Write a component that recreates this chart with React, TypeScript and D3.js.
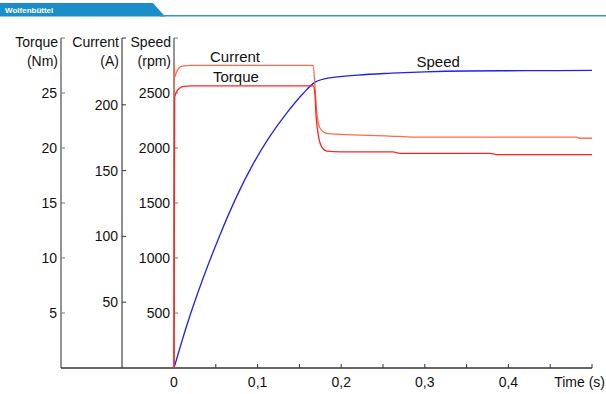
import { useEffect, useRef } from 'react'
import * as d3 from 'd3'

// time in s
const speedData: [number, number][] = [
  [0, 0], [0.015, 380], [0.035, 820], [0.055, 1210], [0.075, 1560], [0.095, 1860],
  [0.115, 2110], [0.135, 2320], [0.155, 2500], [0.167, 2590], [0.18, 2628],
  [0.22, 2663], [0.26, 2680], [0.3, 2692], [0.35, 2700], [0.42, 2703], [0.5, 2705],
]

const currentData: [number, number][] = [
  [0, 0], [0.0003, 232], [0.0008, 221], [0.003, 225], [0.006, 228], [0.01, 229.5],
  [0.02, 230], [0.1666, 230], [0.1687, 213], [0.1707, 195], [0.1746, 182.4],
  [0.1827, 178.3], [0.1986, 177.6], [0.258, 176.3], [0.286, 175.5], [0.4817, 175.5],
  [0.4856, 174.6], [0.5, 174.6],
]

const torqueData: [number, number][] = [
  [0, 0], [0.0008, 24.6], [0.003, 25.1], [0.007, 25.45], [0.012, 25.6], [0.02, 25.64],
  [0.1666, 25.64], [0.1687, 24.8], [0.1699, 23.0], [0.1726, 21.2], [0.1767, 20.1],
  [0.1827, 19.72], [0.2, 19.65], [0.262, 19.65], [0.27, 19.52], [0.378, 19.52],
  [0.386, 19.4], [0.5, 19.4],
]

const torqueTicks = [5, 10, 15, 20, 25]
const currentTicks = [50, 100, 150, 200]
const speedTicks = [500, 1000, 1500, 2000, 2500]
const timeLabelTicks = [0, 0.1, 0.2, 0.3, 0.4]
const timeMinorTicks = [0.05, 0.1, 0.15, 0.2, 0.25, 0.3, 0.35, 0.4, 0.45, 0.5]

const FONT = 'Liberation Sans, Arial, Helvetica, sans-serif'

export default function App() {
  const svgRef = useRef<SVGSVGElement>(null)

  useEffect(() => {
    if (!svgRef.current) return
    const svg = d3.select(svgRef.current)
    svg.selectAll('*').remove()

    const bottom = 368
    const top = 38
    const x = d3.scaleLinear().domain([0, 0.5]).range([174, 592])
    const yTorque = d3.scaleLinear().domain([0, 30]).range([bottom, top])
    const yCurrent = d3.scaleLinear().domain([0, 250.8]).range([bottom, top])
    const ySpeed = d3.scaleLinear().domain([0, 3000]).range([bottom, top])

    // Banner
    svg.append('path')
      .attr('d', 'M0,3 L153,3 L165,16.5 L0,16.5 Z')
      .attr('fill', '#1b8dc8')
    svg.append('line')
      .attr('x1', 160).attr('x2', 606)
      .attr('y1', 15.8).attr('y2', 15.8)
      .attr('stroke', '#2f96cc')
      .attr('stroke-width', 1.5)
    svg.append('text')
      .attr('x', 5).attr('y', 12.5)
      .attr('fill', 'white')
      .attr('font-size', 8)
      .attr('font-weight', 'bold')
      .attr('font-family', FONT)
      .text('Wolfenbüttel')

    // Vertical axes
    const axes = [
      { ax: 61, scale: yTorque, ticks: torqueTicks, color: '#7a7a7a', w: 1.6, title: ['Torque', '(Nm)'], labelX: 57 },
      { ax: 122, scale: yCurrent, ticks: currentTicks, color: '#333', w: 1.1, title: ['Current', '(A)'], labelX: 118 },
      { ax: 174, scale: ySpeed, ticks: speedTicks, color: '#7a7a7a', w: 1.6, title: ['Speed', '(rpm)'], labelX: 170 },
    ]

    axes.forEach((a) => {
      const g = svg.append('g')
      g.append('line')
        .attr('x1', a.ax).attr('x2', a.ax)
        .attr('y1', top).attr('y2', bottom)
        .attr('stroke', a.color)
        .attr('stroke-width', a.w)
      g.append('line')
        .attr('x1', a.ax).attr('x2', a.ax + 4)
        .attr('y1', top).attr('y2', top)
        .attr('stroke', a.color)
        .attr('stroke-width', 1)
      a.ticks.forEach((t) => {
        g.append('line')
          .attr('x1', a.ax).attr('x2', a.ax + 4)
          .attr('y1', a.scale(t)).attr('y2', a.scale(t))
          .attr('stroke', a.color)
          .attr('stroke-width', 1)
        g.append('text')
          .attr('x', a.labelX)
          .attr('y', a.scale(t))
          .attr('dy', '0.36em')
          .attr('text-anchor', 'end')
          .attr('font-size', 14)
          .attr('font-family', FONT)
          .attr('fill', '#111')
          .text(t)
      })
      a.title.forEach((s, i) => {
        g.append('text')
          .attr('x', a.labelX + 1)
          .attr('y', 46.5 + i * 19)
          .attr('text-anchor', 'end')
          .attr('font-size', 14)
          .attr('font-family', FONT)
          .attr('fill', '#111')
          .text(s)
      })
    })

    // Time axis
    const tg = svg.append('g')
    tg.append('line')
      .attr('x1', 61).attr('x2', x(0.5))
      .attr('y1', bottom).attr('y2', bottom)
      .attr('stroke', '#333')
      .attr('stroke-width', 1.3)
    timeMinorTicks.forEach((t) => {
      tg.append('line')
        .attr('x1', x(t)).attr('x2', x(t))
        .attr('y1', bottom).attr('y2', bottom - 4)
        .attr('stroke', '#333')
        .attr('stroke-width', 1)
    })
    timeLabelTicks.forEach((t) => {
      tg.append('text')
        .attr('x', x(t))
        .attr('y', 387)
        .attr('text-anchor', 'middle')
        .attr('font-size', 14)
        .attr('font-family', FONT)
        .attr('fill', '#111')
        .text(t === 0 ? '0' : d3.format('.1f')(t).replace('.', ','))
    })
    tg.append('text')
      .attr('x', 605)
      .attr('y', 387)
      .attr('text-anchor', 'end')
      .attr('font-size', 14)
      .attr('font-family', FONT)
      .attr('fill', '#111')
      .text('Time (s)')

    // Curves
    const series = [
      { data: speedData, y: ySpeed, color: '#2020f0' },
      { data: currentData, y: yCurrent, color: '#ff6a4c' },
      { data: torqueData, y: yTorque, color: '#ff2424' },
    ]
    series.forEach((s) => {
      const line = d3.line<[number, number]>()
        .x((d) => x(d[0]))
        .y((d) => s.y(d[1]))
        .curve(d3.curveMonotoneX)
      svg.append('path')
        .datum(s.data)
        .attr('fill', 'none')
        .attr('stroke', s.color)
        .attr('stroke-width', 1.3)
        .attr('stroke-linejoin', 'round')
        .attr('d', line)
    })

    // Curve labels
    const labels = [
      { text: 'Current', x: 210, y: 62 },
      { text: 'Torque', x: 213, y: 82 },
      { text: 'Speed', x: 416.5, y: 67 },
    ]
    labels.forEach((l) => {
      svg.append('text')
        .attr('x', l.x)
        .attr('y', l.y)
        .attr('font-size', 15)
        .attr('font-family', FONT)
        .attr('fill', '#111')
        .text(l.text)
    })
  }, [])

  return (
    <svg
      ref={svgRef}
      width={606}
      height={394}
      style={{ position: 'absolute', left: 0, top: 0, background: 'white' }}
    />
  )
}
